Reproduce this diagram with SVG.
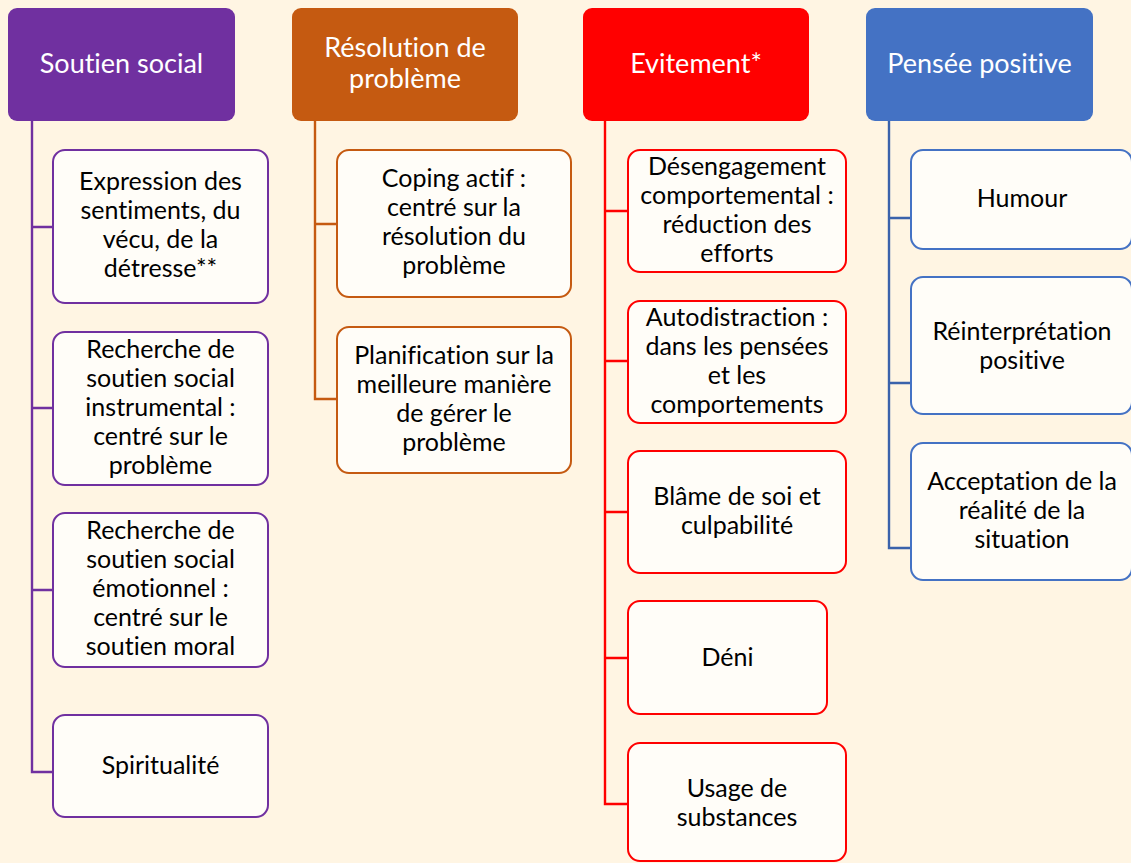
<svg xmlns="http://www.w3.org/2000/svg" width="1131" height="863" viewBox="0 0 1131 863">
  <style>
    .hd { stroke: none; }
    .box { fill: #FFFDF8; stroke-width: 2; }
    .ht, .ct { font-family: Lato, "Open Sans", sans-serif; text-anchor: middle; font-variant-ligatures: none; font-feature-settings: "liga" 0, "dlig" 0; }
    .ht { font-size: 27px; fill: #FFFFFF; }
    .ct { font-size: 25px; fill: #000000; }
    .purple { stroke: #7030A0; }
    .orange { stroke: #C55A11; }
    .red { stroke: #FF0000; }
    .blue { stroke: #4472C4; }
    .link { fill: none; stroke-width: 2.4; }
  </style>
  <rect x="0" y="0" width="1131" height="863" fill="#FFF5E3"/>

  <!-- connectors: one trunk per column with a branch to each child -->
  <g id="connectors">
    <path class="link purple" d="M32 121 V772 H53 M32 227 H53 M32 408 H53 M32 590 H53"/>
    <path class="link orange" d="M315 121 V399 H337 M315 224 H337"/>
    <path class="link red" d="M605 121 V804 H628 M605 211 H628 M605 361 H628 M605 512 H628 M605 658 H628"/>
    <path class="link" stroke="#3A62AB" d="M889 121 V548 H911 M889 218 H911 M889 383 H911"/>
  </g>

  <!-- Soutien social -->
  <g id="soutien-social">
    <rect class="hd" x="8" y="8" width="227" height="113" rx="9" fill="#7030A0"/>
    <text class="ht" x="121.5" y="73">Soutien social</text>
  </g>
  <g id="expression">
    <rect class="box purple" x="53" y="150" width="215" height="153" rx="12"/>
    <text class="ct" x="160.5" y="190">Expression des</text>
    <text class="ct" x="160.5" y="219">sentiments, du</text>
    <text class="ct" x="160.5" y="248">vécu, de la</text>
    <text class="ct" x="160.5" y="277">détresse**</text>
  </g>
  <g id="soutien-instrumental">
    <rect class="box purple" x="53" y="332" width="215" height="153" rx="12"/>
    <text class="ct" x="160.5" y="358">Recherche de</text>
    <text class="ct" x="160.5" y="387">soutien social</text>
    <text class="ct" x="160.5" y="416">instrumental :</text>
    <text class="ct" x="160.5" y="445">centré sur le</text>
    <text class="ct" x="160.5" y="474">problème</text>
  </g>
  <g id="soutien-emotionnel">
    <rect class="box purple" x="53" y="513" width="215" height="154" rx="12"/>
    <text class="ct" x="160.5" y="539">Recherche de</text>
    <text class="ct" x="160.5" y="568">soutien social</text>
    <text class="ct" x="160.5" y="597">émotionnel :</text>
    <text class="ct" x="160.5" y="626">centré sur le</text>
    <text class="ct" x="160.5" y="655">soutien moral</text>
  </g>
  <g id="spiritualite">
    <rect class="box purple" x="53" y="715" width="215" height="102" rx="12"/>
    <text class="ct" x="160.5" y="774">Spiritualité</text>
  </g>

  <!-- Résolution de problème -->
  <g id="resolution">
    <rect class="hd" x="292" y="8" width="226" height="113" rx="9" fill="#C55A11"/>
    <text class="ht" x="405" y="57">Résolution de</text>
    <text class="ht" x="405" y="88">problème</text>
  </g>
  <g id="coping-actif">
    <rect class="box orange" x="337" y="150" width="234" height="147" rx="12"/>
    <text class="ct" x="454" y="187">Coping actif :</text>
    <text class="ct" x="454" y="216">centré sur la</text>
    <text class="ct" x="454" y="245">résolution du</text>
    <text class="ct" x="454" y="274">problème</text>
  </g>
  <g id="planification">
    <rect class="box orange" x="337" y="327" width="234" height="146" rx="12"/>
    <text class="ct" x="454" y="364">Planification sur la</text>
    <text class="ct" x="454" y="393">meilleure manière</text>
    <text class="ct" x="454" y="422">de gérer le</text>
    <text class="ct" x="454" y="451">problème</text>
  </g>

  <!-- Evitement -->
  <g id="evitement">
    <rect class="hd" x="583" y="8" width="226" height="113" rx="9" fill="#FF0000"/>
    <text class="ht" x="696" y="73">Evitement*</text>
  </g>
  <g id="desengagement">
    <rect class="box red" x="628" y="150" width="218" height="122" rx="12"/>
    <text class="ct" x="737" y="175">Désengagement</text>
    <text class="ct" x="737" y="204">comportemental :</text>
    <text class="ct" x="737" y="233">réduction des</text>
    <text class="ct" x="737" y="262">efforts</text>
  </g>
  <g id="autodistraction">
    <rect class="box red" x="628" y="301" width="218" height="122" rx="12"/>
    <text class="ct" x="737" y="326">Autodistraction :</text>
    <text class="ct" x="737" y="355">dans les pensées</text>
    <text class="ct" x="737" y="384">et les</text>
    <text class="ct" x="737" y="413">comportements</text>
  </g>
  <g id="blame">
    <rect class="box red" x="628" y="451" width="218" height="122" rx="12"/>
    <text class="ct" x="737" y="505">Blâme de soi et</text>
    <text class="ct" x="737" y="534">culpabilité</text>
  </g>
  <g id="deni">
    <rect class="box red" x="628" y="601" width="199" height="113" rx="12"/>
    <text class="ct" x="727.5" y="666">Déni</text>
  </g>
  <g id="substances">
    <rect class="box red" x="628" y="743" width="218" height="118" rx="12"/>
    <text class="ct" x="737" y="797">Usage de</text>
    <text class="ct" x="737" y="826">substances</text>
  </g>

  <!-- Pensée positive -->
  <g id="pensee-positive">
    <rect class="hd" x="866" y="8" width="227" height="113" rx="9" fill="#4472C4"/>
    <text class="ht" x="979.5" y="73">Pensée positive</text>
  </g>
  <g id="humour">
    <rect class="box blue" x="911" y="150" width="221" height="99" rx="12"/>
    <text class="ct" x="1022" y="207">Humour</text>
  </g>
  <g id="reinterpretation">
    <rect class="box blue" x="911" y="277" width="221" height="137" rx="12"/>
    <text class="ct" x="1022" y="340">Réinterprétation</text>
    <text class="ct" x="1022" y="369">positive</text>
  </g>
  <g id="acceptation">
    <rect class="box blue" x="911" y="443" width="221" height="137" rx="12"/>
    <text class="ct" x="1022" y="490">Acceptation de la</text>
    <text class="ct" x="1022" y="519">réalité de la</text>
    <text class="ct" x="1022" y="548">situation</text>
  </g>
</svg>
